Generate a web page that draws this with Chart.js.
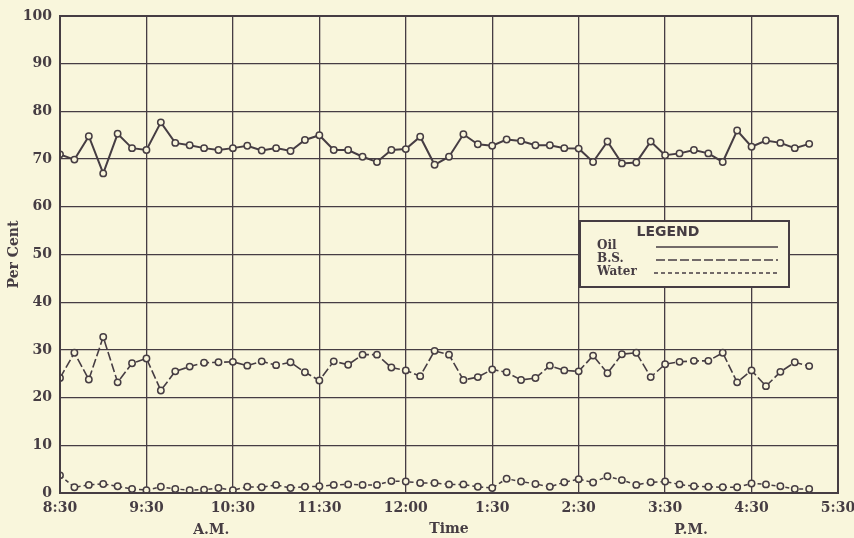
<!DOCTYPE html>
<html lang="en">
<head>
<meta charset="UTF-8" />
<title>Oil, B.S. and Water</title>
<script src="https://cdn.jsdelivr.net/npm/chart.js@4.4.1/dist/chart.umd.min.js"></script>
<style>
  html, body { margin:0; padding:0; background:#f9f6dc; }
  #wrap { width:854px; height:538px; }
</style>
</head>
<body>
<div id="wrap"><canvas id="c" width="854" height="538"></canvas></div>
<script>
// samples every 10 minutes starting 8:30 (index 0)
const timeLabels = ['8:30','9:30','10:30','11:30','12:00','1:30','2:30','3:30','4:30','5:30'];
const periodLabels = [ { text:'A.M.', at:10.5 }, { text:'P.M.', at:43.8 } ];
const yTicks = [0,10,20,30,40,50,60,70,80,90,100];

const oil = [71.0,69.9,74.8,67.0,75.3,72.3,71.9,77.7,73.4,72.9,72.3,71.9,72.3,72.8,71.8,72.3,71.7,74.0,75.0,71.9,
             71.9,70.5,69.4,71.9,72.1,74.7,68.8,70.5,75.2,73.1,72.8,74.1,73.8,72.9,72.9,72.3,72.2,69.4,73.7,69.1,
             69.3,73.7,70.8,71.2,71.9,71.2,69.4,76.0,72.6,73.9,73.4,72.3,73.2];
const bs = [24.1,29.4,23.8,32.7,23.2,27.2,28.2,21.5,25.5,26.5,27.3,27.4,27.5,26.7,27.6,26.8,27.4,25.3,23.6,27.6,
            26.9,29.0,29.0,26.3,25.7,24.5,29.8,29.0,23.7,24.3,25.9,25.3,23.7,24.1,26.7,25.7,25.5,28.8,25.1,29.1,
            29.4,24.3,27.0,27.5,27.7,27.7,29.4,23.2,25.7,22.4,25.4,27.4,26.6];
const water = [3.7,1.2,1.7,1.9,1.4,0.85,0.6,1.3,0.85,0.6,0.7,1.05,0.6,1.3,1.2,1.7,1.05,1.3,1.4,1.7,
               1.8,1.7,1.7,2.5,2.4,2.1,2.1,1.8,1.8,1.3,1.05,3.0,2.4,1.9,1.3,2.25,2.9,2.2,3.5,2.7,
               1.7,2.25,2.4,1.8,1.4,1.3,1.2,1.2,2.0,1.8,1.4,0.85,0.85];

const legendItems = [ { label:'Oil', dash:[] }, { label:'B.S.', dash:[9,3] }, { label:'Water', dash:[4,3] } ];

const ink = '#463d43';
const paper = '#f9f6dc';
const serif = "'DejaVu Serif', serif";

function toPts(arr) { return arr.map((v, i) => ({ x:i, y:v })); }

function series(label, arr, dash, width) {
  return {
    label: label,
    data: toPts(arr),
    borderColor: ink,
    borderWidth: width,
    borderDash: dash,
    pointRadius: 3.2,
    pointBackgroundColor: paper,
    pointBorderColor: ink,
    pointBorderWidth: 1.5,
    tension: 0
  };
}

// legend box and A.M. / P.M. under the axis
const paperPlugin = {
  id: 'paperBits',
  beforeDraw(chart) {
    const ctx = chart.ctx;
    ctx.save();
    ctx.fillStyle = paper;
    ctx.fillRect(0, 0, chart.width, chart.height);
    ctx.restore();
  },
  afterDatasetsDraw(chart) {
    const ctx = chart.ctx;
    const xs = chart.scales.x;
    ctx.save();
    // frame
    const a = chart.chartArea;
    ctx.strokeStyle = ink;
    ctx.lineWidth = 2;
    ctx.strokeRect(a.left, a.top, a.right - a.left, a.bottom - a.top);

    // legend
    const bx = 580, by = 221, bw = 209, bh = 66;
    ctx.fillStyle = paper;
    ctx.fillRect(bx, by, bw, bh);
    ctx.strokeStyle = ink;
    ctx.lineWidth = 2;
    ctx.strokeRect(bx, by, bw, bh);
    ctx.fillStyle = ink;
    ctx.font = "bold 14px 'DejaVu Sans', sans-serif";
    ctx.textAlign = 'center';
    ctx.textBaseline = 'middle';
    ctx.fillText('LEGEND', 668, 232);
    ctx.font = "bold 12px 'DejaVu Serif', serif";
    ctx.textAlign = 'left';
    legendItems.forEach((it, i) => {
      const y = 246 + i * 13;
      ctx.fillText(it.label, 597, y);
      const x0 = it.label === 'Water' ? 654 : 656;
      ctx.beginPath();
      ctx.setLineDash(it.dash);
      ctx.lineWidth = 1.5;
      ctx.moveTo(x0, y + 1);
      ctx.lineTo(778, y + 1);
      ctx.stroke();
    });
    ctx.setLineDash([]);

    // A.M. / P.M.
    ctx.font = 'bold 14px ' + serif;
    ctx.textAlign = 'center';
    periodLabels.forEach(p => ctx.fillText(p.text, xs.getPixelForValue(p.at), 530));
    ctx.restore();
  }
};

new Chart(document.getElementById('c'), {
  type: 'line',
  data: {
    datasets: [
      series('Oil', oil, [], 2),
      series('B.S.', bs, [9, 3], 1.6),
      series('Water', water, [4, 3], 1.5)
    ]
  },
  options: {
    responsive: false,
    animation: false,
    layout: { padding: { left: 0, right: 16, top: 16, bottom: 0 } },
    plugins: { legend: { display: false }, tooltip: { enabled: false } },
    scales: {
      x: {
        type: 'linear',
        min: 0, max: 54,
        afterFit: s => { s.height = 45; s.paddingLeft = 0; s.paddingRight = 0; },
        afterBuildTicks: s => { s.ticks = timeLabels.map((t, i) => ({ value: i * 6 })); },
        ticks: {
          callback: (v) => timeLabels[Math.round(v / 6)],
          color: ink, padding: 7, maxRotation: 0, autoSkip: false,
          font: { family: serif, size: 14, weight: 'bold' }
        },
        grid: { color: ink, lineWidth: 1.3, drawTicks: false },
        border: { color: ink, width: 2 },
        title: { display: true, text: 'Time', color: ink, padding: { top: 0, bottom: 0 },
                 font: { family: serif, size: 14, weight: 'bold' } }
      },
      y: {
        min: 0, max: 100,
        afterFit: s => { s.width = 60; s.paddingTop = 0; s.paddingBottom = 0; },
        afterBuildTicks: s => { s.ticks = yTicks.map(v => ({ value: v })); },
        ticks: {
          color: ink, padding: 8,
          font: { family: serif, size: 14, weight: 'bold' }
        },
        grid: { color: ink, lineWidth: 1.3, drawTicks: false },
        border: { color: ink, width: 2 },
        title: { display: true, text: 'Per Cent', color: ink, padding: { top: 6, bottom: 0 },
                 font: { family: serif, size: 14, weight: 'bold' } }
      }
    }
  },
  plugins: [paperPlugin]
});
</script>
</body>
</html>
